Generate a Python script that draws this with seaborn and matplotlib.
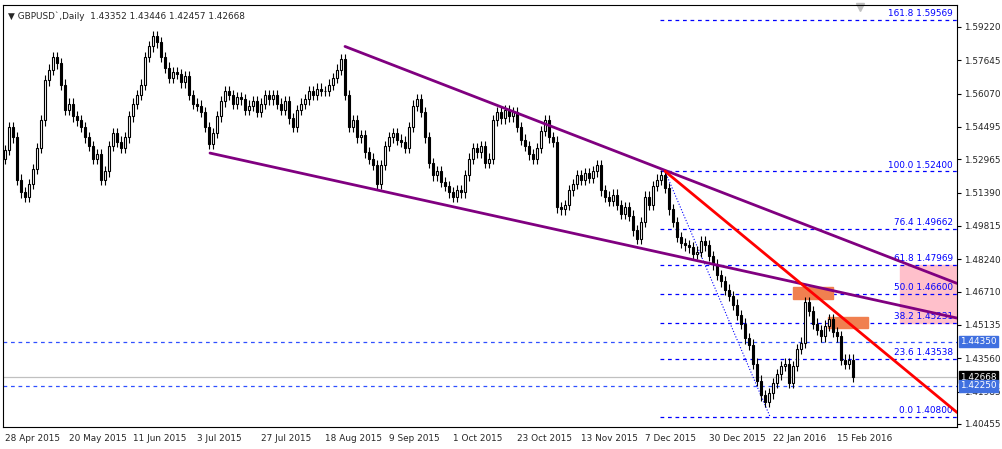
import numpy as np
import pandas as pd
import matplotlib
matplotlib.use("Agg")
import matplotlib.pyplot as plt
import seaborn as sns

closes = [1.534,1.545,1.540,1.520,1.514,1.512,1.518,1.525,1.535,1.548,
 1.567,1.572,1.578,1.575,1.565,1.553,1.556,1.550,1.548,1.545,
 1.540,1.536,1.530,1.532,1.520,1.524,1.536,1.542,1.538,1.535,
 1.540,1.550,1.556,1.560,1.565,1.578,1.583,1.588,1.585,1.578,
 1.573,1.568,1.571,1.570,1.566,1.569,1.560,1.556,1.555,1.552,
 1.545,1.537,1.542,1.550,1.557,1.562,1.560,1.556,1.559,1.558,
 1.553,1.555,1.557,1.552,1.556,1.560,1.558,1.560,1.556,1.553,
 1.557,1.549,1.545,1.553,1.556,1.558,1.562,1.560,1.563,1.562,
 1.562,1.565,1.568,1.572,1.577,1.560,1.545,1.548,1.540,1.541,
 1.533,1.530,1.527,1.518,1.527,1.536,1.540,1.542,1.539,1.538,
 1.535,1.545,1.555,1.558,1.552,1.540,1.528,1.522,1.524,1.519,
 1.517,1.514,1.512,1.515,1.514,1.522,1.530,1.535,1.533,1.536,
 1.528,1.530,1.548,1.552,1.549,1.553,1.550,1.552,1.545,1.539,
 1.536,1.532,1.530,1.535,1.543,1.548,1.540,1.538,1.507,1.506,
 1.508,1.515,1.518,1.522,1.520,1.523,1.521,1.524,1.527,1.515,
 1.512,1.510,1.513,1.508,1.504,1.507,1.503,1.496,1.492,1.500,
 1.512,1.508,1.517,1.520,1.522,1.516,1.506,1.500,1.493,1.490,
 1.489,1.488,1.485,1.486,1.491,1.489,1.484,1.480,1.475,1.472,
 1.468,1.465,1.461,1.456,1.452,1.445,1.442,1.433,1.425,1.418,
 1.415,1.419,1.424,1.428,1.432,1.433,1.424,1.432,1.440,1.443,
 1.462,1.458,1.452,1.449,1.446,1.451,1.454,1.448,1.446,1.435,
 1.433,1.435,1.42668]
first_open = 1.530
date_labels = ["28 Apr 2015","20 May 2015","11 Jun 2015","3 Jul 2015","27 Jul 2015",
 "18 Aug 2015","9 Sep 2015","1 Oct 2015","23 Oct 2015","13 Nov 2015","7 Dec 2015",
 "30 Dec 2015","22 Jan 2016","15 Feb 2016"]
yticks = [1.59220,1.57645,1.56070,1.54495,1.52965,1.51390,1.49815,1.48240,1.46710,
 1.45135,1.43560,1.41985,1.40455]
fib_pct = ["161.8","100.0","76.4","61.8","50.0","38.2","23.6","0.0"]
fib_val = [1.59569,1.52400,1.49662,1.47969,1.46600,1.45231,1.43538,1.40800]
hlines = [1.44350, 1.42250]
last_price = 1.42668

sns.set_style("white")
plt.rcParams['font.family'] = ['DejaVu Sans']
FS = 6.4
fig = plt.figure(figsize=(10.02, 4.49), dpi=100)
ax = fig.add_axes([3/1002, 22/449, 954/1002, 422/449])
n = len(closes)
idx = np.arange(n)
opens = np.array([first_open] + closes[:-1])
cl = np.array(closes)
hi = np.maximum(opens, cl) + 0.0025
lo = np.minimum(opens, cl) - 0.0025
ax.vlines(idx, lo, hi, color="black", lw=0.8, zorder=3)
up = cl >= opens
ax.bar(idx[up], (cl-opens)[up], bottom=opens[up], width=0.65, color="white", edgecolor="black", lw=0.8, zorder=4)
ax.bar(idx[~up], (opens-cl)[~up], bottom=cl[~up], width=0.65, color="black", edgecolor="black", lw=0.8, zorder=4)

xmax = (957-5)/4
ax.set_xlim(-0.5, xmax)
ax.set_ylim(1.4031, 1.6026)
fx0 = (660-5)/4
for p, v in zip(fib_pct, fib_val):
    ax.plot([fx0, xmax], [v, v], color="#0000ff", ls=(0,(3,3)), lw=0.9, zorder=2)
    ax.text(xmax-1, v+0.0008, f"{p} {v:.5f}", color="#0000ff", fontsize=FS, ha="right", va="bottom")
ax.add_patch(plt.Rectangle(((900-5)/4, 1.45231), xmax, 1.47969-1.45231, color="#ffc0cb", zorder=1))
for v in hlines:
    ax.axhline(v, color="#3050ff", ls=(0,(3,3)), lw=0.9, zorder=2)
ax.axhline(last_price, color="#c0c0c0", lw=0.9, zorder=1)
ax.add_patch(plt.Rectangle(((793-5)/4, 1.4636), 10, 0.0056, color="#f08050", zorder=2))
ax.add_patch(plt.Rectangle(((828-5)/4, 1.4500), 10, 0.0051, color="#f08050", zorder=2))
tl = pd.DataFrame({"x": [(345-5)/4, xmax, (210-5)/4, xmax, (665-5)/4, xmax],
                   "y": [1.5830, 1.4710, 1.5326, 1.4546, 1.5240, 1.4100],
                   "g": ["a","a","b","b","c","c"]})
sns.lineplot(data=tl, x="x", y="y", hue="g", palette={"a":"#800080","b":"#800080","c":"#ff0000"},
             lw=2, legend=False, ax=ax, zorder=5)
ax.plot([(665-5)/4, (770-5)/4], [1.524, 1.408], color="#0000ff", ls=":", lw=0.8, zorder=2)
ax.plot([(860-5)/4], [1.6018], marker="v", color="#c0c0c0", ms=6, clip_on=False)

ax.set_xlabel(""); ax.set_ylabel("")
ax.set_xticks(np.arange(0, 16*len(date_labels), 16))
ax.set_xticklabels(date_labels, fontsize=FS, ha="left")
ax.yaxis.tick_right()
ax.set_yticks(yticks)
ax.set_yticklabels([f"{v:.5f}" for v in yticks], fontsize=FS)
ax.tick_params(length=3, width=0.8, direction="out", color="black", pad=2)
for s in ax.spines.values():
    s.set_color("black"); s.set_linewidth(0.8)
ax.text(0.005, 0.985, "▼ GBPUSD`,Daily  1.43352 1.43446 1.42457 1.42668", transform=ax.transAxes,
        fontsize=FS, va="top", ha="left")
def box(v, fc, tc):
    ax.text(1.003, v, f"{v:.5f}", transform=ax.get_yaxis_transform(), fontsize=FS, color=tc,
            va="center", ha="left", bbox=dict(boxstyle="square,pad=0.15", fc=fc, ec=fc), clip_on=False)
box(1.44350, "#4070e0", "white")
box(last_price, "black", "white")
box(1.42250, "#4070e0", "white")
fig.savefig("out.png", dpi=100)
